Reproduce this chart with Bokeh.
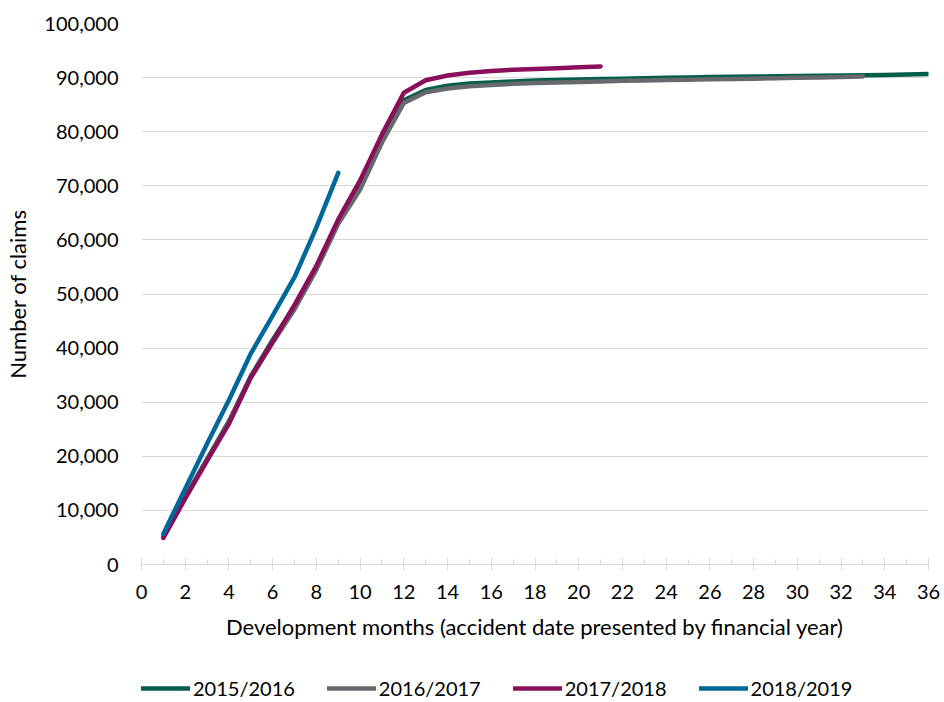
from bokeh.plotting import figure
from bokeh.layouts import column
from bokeh.models import (Range1d, NumeralTickFormatter, FixedTicker, Legend, LegendItem)
from bokeh.embed import file_html
from bokeh.resources import INLINE

series_names = ["2015/2016", "2016/2017", "2017/2018", "2018/2019"]
colors = ["#005E4B", "#68696D", "#8A0F5B", "#00679B"]

months_1516 = list(range(1, 37))
claims_1516 = [5200, 12500, 19500, 26500, 34800, 41500, 47800, 55000, 63500, 70000,
               78500, 85800, 87700, 88500, 88900, 89100, 89300, 89450, 89550, 89650,
               89750, 89800, 89900, 89950, 90000, 90100, 90150, 90200, 90250, 90300,
               90350, 90400, 90450, 90500, 90550, 90650]

months_1617 = list(range(1, 34))
claims_1617 = [5100, 12300, 19300, 26300, 34500, 41000, 47200, 54500, 63000, 69300,
               78000, 85300, 87300, 88000, 88400, 88650, 88850, 89000, 89100, 89200,
               89300, 89400, 89450, 89550, 89600, 89700, 89750, 89800, 89900, 89950,
               90000, 90100, 90200]

months_1718 = list(range(1, 22))
claims_1718 = [4900, 12200, 19200, 26000, 34600, 41200, 48000, 55200, 63800, 71000,
               79500, 87200, 89500, 90400, 90900, 91200, 91450, 91600, 91750, 91900,
               92050]

months_1819 = list(range(1, 10))
claims_1819 = [5700, 14000, 22300, 30400, 39000, 46000, 53100, 62300, 72400]

x_ticks = list(range(0, 37, 2))
x_minor = list(range(0, 37))
y_ticks = list(range(0, 100001, 10000))

FONT = "Lato"
LINE_W = 4.5

# ---------------- main chart ----------------
p = figure(frame_width=787, frame_height=541, output_backend="svg", toolbar_location=None,
           x_range=Range1d(0, 36), y_range=Range1d(0, 100000),
           min_border_left=141, min_border_right=16, min_border_top=23, min_border_bottom=88)
p.outline_line_color = None

p.xgrid.grid_line_color = None
p.ygrid.grid_line_color = "#D9D9D9"
p.ygrid.grid_line_width = 1
p.ygrid.ticker = FixedTicker(ticks=y_ticks)

p.xaxis.ticker = FixedTicker(ticks=x_ticks, minor_ticks=x_minor)
p.yaxis.ticker = FixedTicker(ticks=y_ticks)
p.yaxis.formatter = NumeralTickFormatter(format="0,0")

for ax in (p.xaxis[0], p.yaxis[0]):
    ax.major_label_text_font = FONT
    ax.major_label_text_font_size = "20px"
    ax.major_label_text_color = "#000000"
    ax.axis_label_text_font = FONT
    ax.axis_label_text_font_size = "22px"
    ax.axis_label_text_font_style = "normal"
    ax.axis_label_text_color = "#000000"

p.xaxis.axis_label = "Development months (accident date presented by financial year)"
p.yaxis.axis_label = "Number of claims"
p.xaxis.axis_line_color = "#D9D9D9"
p.xaxis.major_tick_line_color = "#D9D9D9"
p.xaxis.minor_tick_line_color = "#D9D9D9"
p.xaxis.major_tick_in = 7
p.xaxis.major_tick_out = 6
p.xaxis.minor_tick_in = 5
p.xaxis.minor_tick_out = 0
p.xaxis.major_label_standoff = 14
p.xaxis.axis_label_standoff = 11

p.yaxis.axis_line_color = None
p.yaxis.major_tick_line_color = None
p.yaxis.minor_tick_line_color = None
p.yaxis.major_tick_out = 0
p.yaxis.major_tick_in = 0
p.yaxis.minor_tick_out = 0
p.yaxis.major_label_standoff = 23
p.yaxis.axis_label_standoff = 10

data = [(months_1516, claims_1516), (months_1617, claims_1617),
        (months_1718, claims_1718), (months_1819, claims_1819)]
for (xs, ys), c in zip(data, colors):
    p.line(xs, ys, line_color=c, line_width=LINE_W, line_cap="round", line_join="round")

# ---------------- legend strip under the chart ----------------
lg = figure(width=944, height=50, output_backend="svg", toolbar_location=None,
            x_range=Range1d(0, 1), y_range=Range1d(0, 1),
            x_axis_location=None, y_axis_location=None,
            min_border_left=0, min_border_right=0, min_border_top=0, min_border_bottom=0)
lg.outline_line_color = None
lg.xgrid.grid_line_color = None
lg.ygrid.grid_line_color = None

nan = float("nan")
items = []
for name, c in zip(series_names, colors):
    r = lg.line([nan], [nan], line_color=c, line_width=LINE_W, line_cap="round")
    items.append(LegendItem(label=name, renderers=[r]))

legend = Legend(items=items, orientation="horizontal", location=(0, 2),
                label_text_font=FONT, label_text_font_size="20px",
                label_text_color="#000000", glyph_width=49, glyph_height=16,
                label_height=20, spacing=32, label_standoff=3, border_line_color=None,
                background_fill_alpha=0, padding=0, margin=0)
lg.add_layout(legend, "center")

layout = column(p, lg, spacing=0)
open("out.html", "w").write(file_html(layout, INLINE))
